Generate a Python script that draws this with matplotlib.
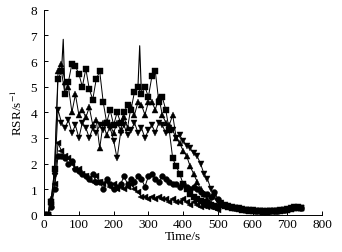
#!/usr/bin/env python3
"""RSR versus time for five runs, black markers, Times-like styling."""
import matplotlib

matplotlib.use("Agg")

import matplotlib.pyplot as plt
import numpy as np

plt.rcParams["font.family"] = ["Liberation Serif", "DejaVu Serif"]
plt.rcParams["mathtext.fontset"] = "stix"

TIME = list(range(0, 750, 10))

TAIL_A = [0.45, 0.40, 0.36, 0.32, 0.28, 0.25, 0.22, 0.20, 0.18, 0.17, 0.15, 0.15,
          0.14, 0.14, 0.15, 0.15, 0.16, 0.18, 0.20, 0.22, 0.26, 0.30, 0.30, 0.28]
TAIL_B = [0.40, 0.36, 0.32, 0.28, 0.25, 0.22, 0.20, 0.18, 0.16, 0.15, 0.14, 0.13,
          0.12, 0.12, 0.13, 0.13, 0.14, 0.16, 0.18, 0.20, 0.24, 0.27, 0.28, 0.25]

RSR_SQUARE = [0.0, 0.0, 0.5, 1.8, 5.3, 5.6, 4.7, 5.2, 5.9, 5.8, 5.5, 5.0, 5.7, 4.9, 4.5,
              5.3, 5.6, 4.4, 3.6, 4.1, 3.5, 4.0, 3.6, 4.0, 4.3, 4.1, 4.8, 5.0, 4.7, 5.0,
              4.6, 5.4, 5.6, 4.4, 4.6, 4.1, 3.3, 2.2, 1.9, 1.6, 1.2, 1.0, 0.8, 0.7, 0.6,
              0.55, 0.5, 0.45, 0.4, 0.35, 0.3] + TAIL_B
RSR_UP = [0.0, 0.0, 0.6, 1.7, 5.6, 5.9, 5.2, 5.0, 4.0, 4.7, 3.9, 4.1, 3.8, 4.2, 3.5,
          3.7, 2.6, 3.6, 3.1, 3.5, 3.2, 3.6, 3.3, 3.8, 3.4, 4.2, 3.9, 4.4, 4.3, 3.9,
          4.4, 4.4, 4.1, 4.6, 3.9, 3.6, 3.5, 3.9, 3.0, 2.8, 2.5, 2.3, 1.9, 1.6, 1.3,
          1.0, 0.8, 0.6, 0.45, 0.35, 0.3] + TAIL_A
RSR_DOWN = [0.0, 0.0, 0.5, 1.5, 4.1, 3.6, 3.4, 3.7, 3.2, 3.5, 3.0, 3.6, 3.4, 3.0, 3.4,
            3.2, 3.5, 3.3, 3.6, 3.4, 2.9, 2.2, 3.2, 3.5, 3.1, 3.3, 3.6, 3.2, 3.4, 3.0,
            3.3, 3.5, 3.2, 3.6, 3.5, 3.2, 3.4, 3.3, 3.0, 3.1, 2.9, 2.7, 2.6, 2.4, 2.3,
            2.0, 1.6, 1.4, 1.0, 0.7, 0.5] + TAIL_A
RSR_CIRCLE = [0.0, 0.0, 0.3, 1.0, 2.3, 2.3, 2.2, 2.0, 2.1, 1.8, 1.7, 1.6, 1.5, 1.4, 1.6,
              1.3, 1.3, 1.0, 1.4, 1.2, 1.0, 1.1, 1.2, 1.5, 1.2, 1.4, 1.3, 1.5, 1.4, 1.1,
              1.5, 1.6, 1.4, 1.3, 1.5, 1.4, 1.3, 1.2, 1.2, 1.1, 1.2, 1.1, 1.0, 1.1, 1.0,
              0.9, 0.8, 0.8, 0.7, 0.9, 0.6] + TAIL_A
RSR_LEFT = [0.0, 0.0, 0.4, 1.2, 2.8, 2.5, 2.3, 2.2, 2.0, 1.8, 1.8, 1.6, 1.5, 1.4, 1.3,
            1.5, 1.3, 1.2, 1.3, 1.1, 1.2, 1.0, 1.1, 1.0, 1.1, 1.2, 1.0, 0.9, 0.7, 0.7,
            0.6, 0.7, 0.6, 0.7, 0.6, 0.6, 0.5, 0.6, 0.5, 0.5, 0.6, 0.5, 0.4, 0.5, 0.4,
            0.3, 0.35, 0.3, 0.3, 0.25, 0.2] + TAIL_B

# narrow spikes drawn as bare line (no marker at the peak)
SPIKE1_T = [50, 55, 60]
SPIKE1_V = [5.6, 6.85, 4.7]
SPIKE2_T = [270, 275, 280]
SPIKE2_V = [5.0, 6.6, 4.7]

SERIES = [
    (RSR_SQUARE, "s", 3.9),
    (RSR_UP, "^", 4.6),
    (RSR_DOWN, "v", 4.6),
    (RSR_CIRCLE, "o", 4.2),
    (RSR_LEFT, "<", 4.4),
]

fig = plt.figure(figsize=(3.42, 2.53), dpi=100)
ax = fig.add_axes([0.129, 0.147, 0.813, 0.81])

t = np.array(TIME)
for vals, marker, ms in SERIES:
    ax.plot(t, vals, color="black", lw=0.7, marker=marker, ms=ms,
            mec="black", mfc="black", mew=0.3)
ax.plot(SPIKE1_T, SPIKE1_V, color="black", lw=0.8)
ax.plot(SPIKE2_T, SPIKE2_V, color="black", lw=0.8)

ax.set_xlim(0, 800)
ax.set_ylim(0, 8)
ax.set_xticks(range(0, 801, 100))
ax.set_yticks(range(0, 9))
ax.spines["top"].set_visible(False)
ax.spines["right"].set_visible(False)
for sp in ("left", "bottom"):
    ax.spines[sp].set_linewidth(0.7)
ax.tick_params(direction="in", length=3, width=0.7, labelsize=9.5)
ax.tick_params(axis="x", pad=2.5)
ax.tick_params(axis="y", pad=5)
ax.set_xlabel("Time/s", fontsize=9.5, labelpad=0)
ax.set_ylabel(r"RSR/s$^{-1}$", fontsize=9.5, labelpad=4)

fig.savefig("out.png", dpi=100)
